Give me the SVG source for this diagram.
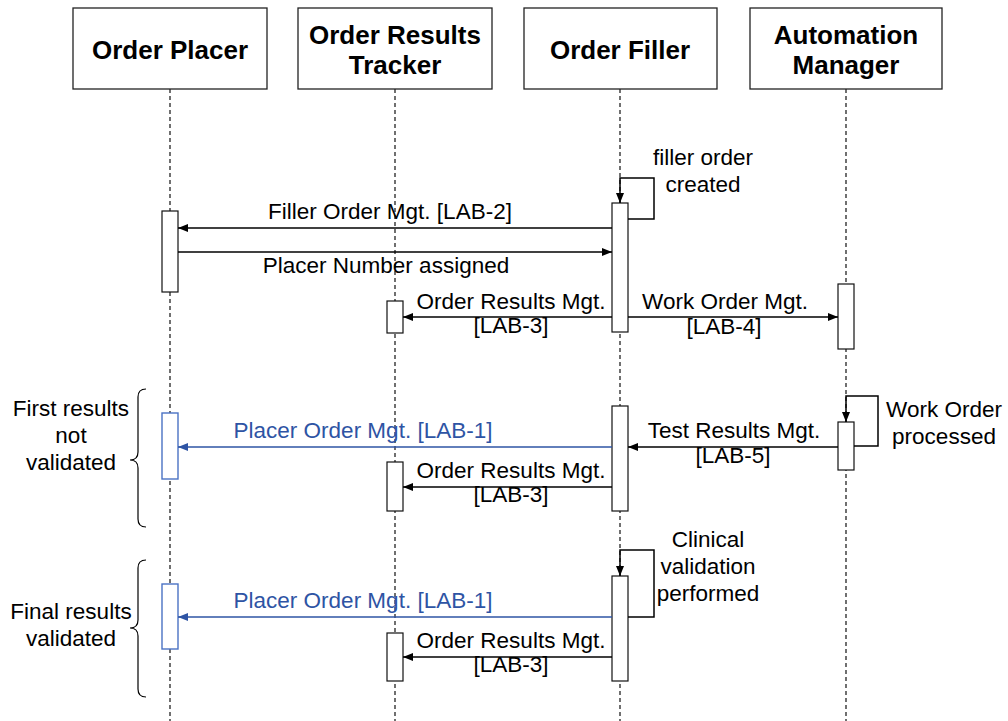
<svg xmlns="http://www.w3.org/2000/svg" width="1008" height="721" viewBox="0 0 1008 721">
<defs>
<style>
.hdr{fill:#fff;stroke:#222;stroke-width:1.3}
.ht{font-family:"Liberation Sans",Arial,sans-serif;font-weight:bold;font-size:26px;fill:#000;text-anchor:middle}
.t{font-family:"Liberation Sans",Arial,sans-serif;font-size:22.5px;fill:#000;text-anchor:middle}
.tb{font-family:"Liberation Sans",Arial,sans-serif;font-size:22.5px;fill:#2E54A4;text-anchor:middle}
.life{stroke:#111;stroke-width:1.2;stroke-dasharray:4,3;fill:none}
.bar{fill:#fff;stroke:#111;stroke-width:1.2}
.barb{fill:#fff;stroke:#4A72C4;stroke-width:1.4}
.msg{stroke:#000;stroke-width:1.5;fill:none;marker-end:url(#ah)}
.msgb{stroke:#2E54A4;stroke-width:1.5;fill:none;marker-end:url(#ahb)}
.brace{stroke:#000;stroke-width:1.2;fill:none}
</style>
<marker id="ah" markerUnits="userSpaceOnUse" markerWidth="10" markerHeight="8" refX="10" refY="4" orient="auto"><path d="M0,0 L10,4 L0,8 z" fill="#000"/></marker>
<marker id="ahb" markerUnits="userSpaceOnUse" markerWidth="10" markerHeight="8" refX="10" refY="4" orient="auto"><path d="M0,0 L10,4 L0,8 z" fill="#2E54A4"/></marker>
</defs>
<rect width="1008" height="721" fill="#fff"/>

<g id="lifelines">
<line class="life" x1="170" y1="89" x2="170" y2="721"/>
<line class="life" x1="395" y1="89" x2="395" y2="721"/>
<line class="life" x1="620" y1="89" x2="620" y2="721"/>
<line class="life" x1="846" y1="89" x2="846" y2="721"/>
</g>

<g id="order-placer">
<rect class="hdr" x="73" y="8" width="194" height="81"/>
<text class="ht" x="170" y="59">Order Placer</text>
<rect class="bar" x="162" y="211" width="16" height="81"/>
<rect class="barb" x="162" y="413" width="16" height="66"/>
<rect class="barb" x="162" y="584" width="16" height="65"/>
</g>

<g id="order-results-tracker">
<rect class="hdr" x="298" y="8" width="194" height="81"/>
<text class="ht" x="395" y="44">Order Results</text>
<text class="ht" x="395" y="74">Tracker</text>
<rect class="bar" x="387" y="301" width="16" height="32"/>
<rect class="bar" x="387" y="462" width="16" height="49"/>
<rect class="bar" x="387" y="633" width="16" height="48"/>
</g>

<g id="order-filler">
<rect class="hdr" x="524" y="8" width="193" height="81"/>
<text class="ht" x="620" y="59">Order Filler</text>
<rect class="bar" x="612" y="203" width="16" height="129"/>
<rect class="bar" x="612" y="406" width="16" height="105"/>
<rect class="bar" x="612" y="576" width="16" height="105"/>
</g>

<g id="automation-manager">
<rect class="hdr" x="750" y="8" width="192" height="81"/>
<text class="ht" x="846" y="44">Automation</text>
<text class="ht" x="846" y="74">Manager</text>
<rect class="bar" x="838" y="284" width="16" height="65"/>
<rect class="bar" x="838" y="422" width="16" height="48"/>
</g>

<g id="connectors">
<polyline class="msg" points="628,219 654,219 654,178 620,178 620,203"/>
<line class="msg" x1="612" y1="228" x2="178" y2="228"/>
<line class="msg" x1="178" y1="252" x2="612" y2="252"/>
<line class="msg" x1="612" y1="317" x2="403" y2="317"/>
<line class="msg" x1="628" y1="317" x2="838" y2="317"/>
<polyline class="msg" points="854,446 878,446 878,396 846,396 846,422"/>
<line class="msg" x1="838" y1="447" x2="628" y2="447"/>
<line class="msgb" x1="612" y1="447" x2="178" y2="447"/>
<line class="msg" x1="612" y1="487" x2="403" y2="487"/>
<polyline class="msg" points="628,617 654,617 654,550 620,550 620,576"/>
<line class="msgb" x1="612" y1="617" x2="178" y2="617"/>
<line class="msg" x1="612" y1="657" x2="403" y2="657"/>
</g>

<g id="labels">
<text class="t" x="703" y="165">filler order</text>
<text class="t" x="703" y="192">created</text>
<text class="t" x="390" y="219">Filler Order Mgt. [LAB-2]</text>
<text class="t" x="386" y="273">Placer Number assigned</text>
<text class="t" x="511" y="309">Order Results Mgt.</text>
<text class="t" x="511" y="333">[LAB-3]</text>
<text class="t" x="725" y="309">Work Order Mgt.</text>
<text class="t" x="724" y="334">[LAB-4]</text>
<text class="t" x="944" y="417">Work Order</text>
<text class="t" x="944" y="444">processed</text>
<text class="t" x="734" y="438">Test Results Mgt.</text>
<text class="t" x="733" y="463">[LAB-5]</text>
<text class="tb" x="363" y="438">Placer Order Mgt. [LAB-1]</text>
<text class="t" x="511" y="478">Order Results Mgt.</text>
<text class="t" x="511" y="502">[LAB-3]</text>
<text class="t" x="708" y="547">Clinical</text>
<text class="t" x="708" y="574">validation</text>
<text class="t" x="708" y="601">performed</text>
<text class="tb" x="363" y="608">Placer Order Mgt. [LAB-1]</text>
<text class="t" x="511" y="648">Order Results Mgt.</text>
<text class="t" x="511" y="672">[LAB-3]</text>
</g>

<g id="brace-first">
<path class="brace" d="M146,389 Q138,389 138,397 L138,452 Q138,460 130,460 Q138,460 138,468 L138,519 Q138,527 146,527"/>
<text class="t" x="71" y="416">First results</text>
<text class="t" x="71" y="443">not</text>
<text class="t" x="71" y="470">validated</text>
</g>

<g id="brace-final">
<path class="brace" d="M146,560 Q138,560 138,568 L138,620 Q138,628 130,628 Q138,628 138,636 L138,689 Q138,697 146,697"/>
<text class="t" x="71" y="619">Final results</text>
<text class="t" x="71" y="646">validated</text>
</g>
</svg>
